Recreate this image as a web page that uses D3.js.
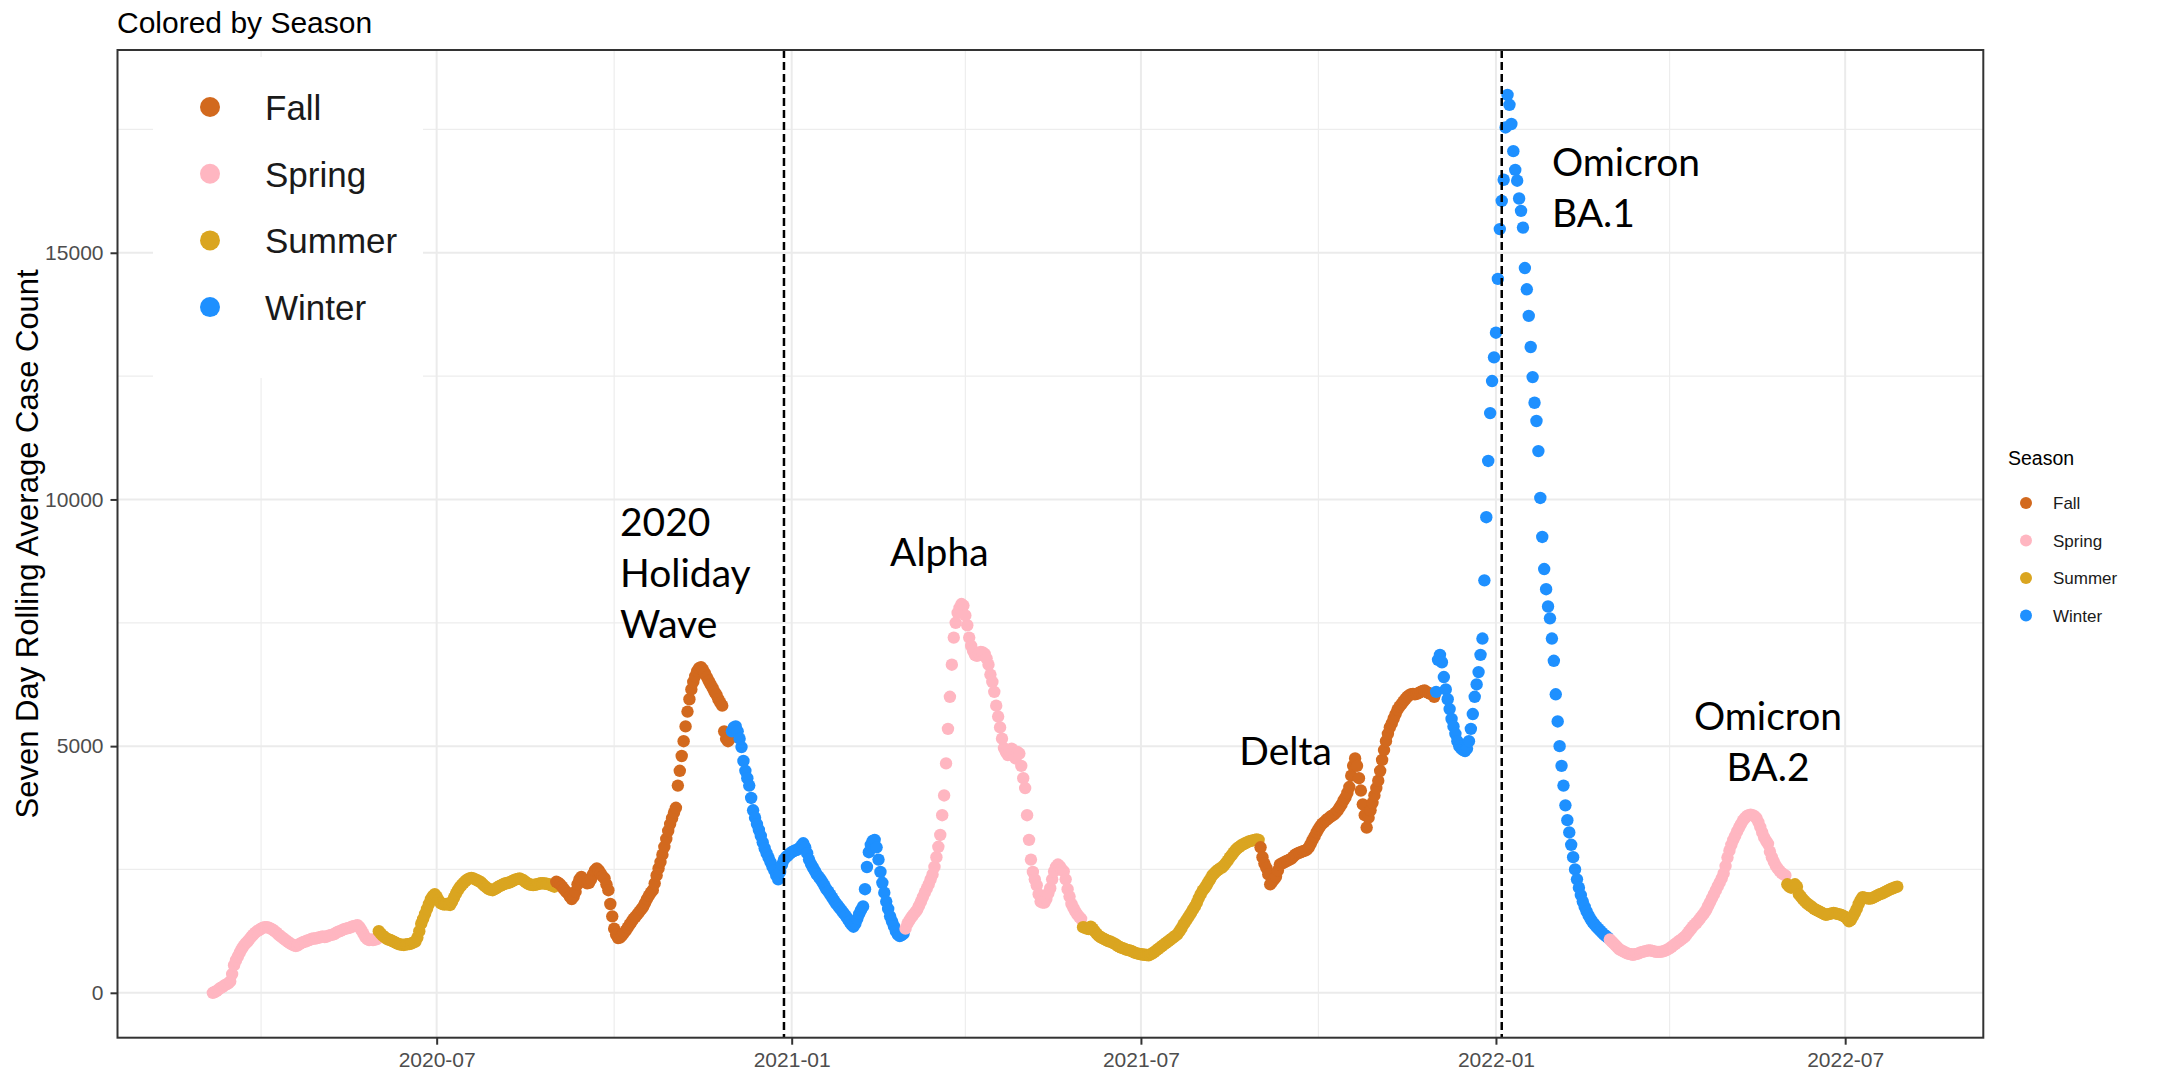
<!DOCTYPE html>
<html>
<head>
<meta charset="utf-8">
<script src="https://cdn.jsdelivr.net/npm/d3@7"></script>
<style>
  html, body { margin: 0; padding: 0; background: #ffffff; }
  svg { display: block; }
</style>
</head>
<body>
<svg id="chart" width="2177" height="1071"></svg>
<script>
// ---------------- DATA ----------------
const seasonNames = ["Fall", "Spring", "Summer", "Winter"];
const seasonColors = ["#D2691E", "#FFB6C1", "#DAA520", "#1E90FF"];

// each block is a run of consecutive daily values starting at blockStarts[i]
const blockStarts = ["2020-03-07", "2020-06-01", "2020-09-01", "2020-12-01", "2021-03-01",
                     "2021-06-01", "2021-09-01", "2021-12-01", "2022-03-01", "2022-06-01"];
const blockSeasons = ["Spring", "Summer", "Fall", "Winter", "Spring",
                      "Summer", "Fall", "Winter", "Spring", "Summer"];

const spring2020 = [0,15,40,70,100,120,150,170,190,230, 380,560,660,740,820,890,950,1000,1040,1090,
  1140,1180,1220,1250,1270,1300,1320,1330,1330,1320, 1300,1280,1250,1220,1180,1150,1120,1090,1060,1030,
  1000,980,960,950,960,990,1010,1030,1040,1060, 1070,1090,1100,1100,1110,1120,1130,1140,1130,1140,
  1160,1170,1180,1190,1220,1240,1250,1270,1290,1300, 1310,1320,1340,1350,1360,1370,1330,1270,1200,1130,
  1090,1070,1080,1070,1080,1090];
const summer2020 = [1250,1200,1160,1130,1100,1080,1070,1050,1030,1010, 990,980,975,970,980,985,990,1000,1020,1040,
  1120,1250,1400,1500,1600,1700,1800,1900,1960,2000, 1950,1880,1820,1800,1790,1800,1790,1780,1850,1930,
  2010,2080,2140,2190,2230,2270,2300,2320,2330,2320, 2300,2280,2260,2240,2200,2160,2130,2100,2090,2080,
  2100,2120,2150,2170,2190,2210,2220,2230,2240,2260, 2280,2300,2310,2320,2300,2280,2250,2220,2200,2190,
  2185,2190,2200,2210,2220,2220,2215,2210,2200,2190, 2170,2150];
const fall2020 = [2250,2230,2200,2150,2100,2050,2016,1950,1900,1950, 2050,2200,2300,2350,2300,2250,2220,2230,2300,2400,
  2480,2520,2480,2420,2360,2320,2200,2080,1800,1550, 1300,1180,1110,1120,1160,1210,1260,1320,1380,1440,
  1500,1540,1590,1640,1690,1740,1820,1900,1970,2030, 2080,2220,2380,2520,2650,2800,2960,3120,3280,3420,
  3540,3650,3750,4200,4500,4800,5100,5400,5700,5950, 6150,6300,6420,6520,6580,6600,6550,6480,6400,6320,
  6250,6180,6100,6040,5950,5880,5820,5300,5150,5100, 5150];
const winter2021 = [5300,5380,5400,5300,5150,4980,4700,4500,4350,4200, 3950,3700,3550,3420,3300,3180,3050,2930,2830,2740,
  2650,2560,2480,2380,2300,2450,2600,2700,2750,2780, 2820,2850,2870,2890,2900,2930,2980,3030,2950,2830,
  2700,2610,2540,2470,2400,2350,2300,2240,2170,2100, 2050,1990,1930,1870,1810,1760,1710,1660,1610,1560,
  1500,1440,1380,1340,1400,1500,1600,1680,1750,2100, 2550,2850,3000,3080,3100,2950,2700,2450,2230,2030,
  1850,1700,1550,1450,1350,1250,1180,1150,1170,1200];
const spring2021 = [1300,1400,1470,1530,1580,1630,1680,1760,1850,1940, 2030,2110,2200,2300,2400,2550,2750,2960,3200,3600,
  4000,4650,5350,6000,6650,7200,7500,7700,7800,7880, 7850,7650,7450,7200,7030,6930,6850,6830,6880,6910,
  6900,6870,6780,6650,6450,6300,6100,5820,5600,5380, 5150,4960,4880,4820,4880,4950,4900,4750,4880,4850,
  4600,4350,4150,3600,3100,2700,2450,2300,2180,2000, 1850,1830,1830,1900,2020,2120,2300,2460,2550,2600,
  2560,2500,2460,2300,2100,1950,1800,1720,1650,1590, 1540,1500];
const summer2021 = [1330,1320,1300,1290,1340,1300,1250,1200,1160,1130, 1110,1090,1070,1050,1040,1020,1000,980,950,930,
  910,900,880,870,860,850,830,810,800,790, 780,775,770,765,760,780,800,830,860,890,
  920,950,980,1010,1040,1070,1100,1130,1160,1190, 1250,1310,1380,1440,1500,1560,1620,1690,1750,1830,
  1920,2000,2070,2120,2180,2250,2310,2380,2420,2460, 2490,2520,2540,2580,2630,2680,2740,2790,2840,2890,
  2930,2960,2990,3010,3030,3050,3070,3080,3090,3100, 3110,3100];
const fall2021 = [2950,2750,2620,2530,2400,2200,2250,2300,2350,2480, 2600,2620,2640,2660,2680,2700,2720,2760,2800,2820,
  2840,2850,2870,2880,2900,2950,3020,3100,3170,3250, 3320,3380,3430,3460,3500,3530,3560,3590,3610,3650,
  3700,3760,3820,3900,3960,4050,4170,4400,4600,4750, 4600,4350,4100,3820,3600,3350,3550,3700,3850,4000,
  4150,4300,4500,4720,4920,5100,5250,5380,5460,5560, 5650,5740,5800,5850,5900,5950,6000,6030,6050,6060,
  6050,6060,6080,6100,6120,6130,6100,6080,6060,6050, 6000];
const winter2022 = [6100,6750,6850,6700,6400,6150,5950,5750,5550,5400, 5250,5100,5000,4950,4920,4900,4950,5100,5350,5650,
  6000,6250,6500,6850,7180,8360,9640,10780,11750,12400, 12880,13380,14470,15480,16050,16480,17540,18200,18000,17610,
  17060,16680,16460,16100,15850,15510,14690,14260,13720,13090, 12480,11960,11590,10980,10030,9240,8590,8180,7830,7590,
  7180,6730,6050,5500,5000,4600,4200,3800,3500,3250, 3000,2750,2500,2300,2130,1980,1850,1740,1650,1570,
  1500,1440,1390,1340,1300,1260,1220,1180,1150,1120];
const spring2022 = [1080,1040,1000,960,920,880,860,840,820,800, 790,780,770,780,790,800,820,830,840,850,
  860,860,850,840,830,830,830,835,845,860, 880,900,930,960,990,1020,1050,1080,1110,1140,
  1190,1240,1290,1340,1380,1420,1470,1520,1570,1620, 1680,1760,1840,1920,2000,2080,2160,2240,2320,2420,
  2570,2740,2880,3000,3100,3180,3270,3350,3420,3490, 3540,3580,3600,3610,3600,3580,3540,3460,3360,3250,
  3150,3080,3020,2860,2750,2660,2580,2520,2470,2430, 2400,2380];
const summer2022 = [2200,2150,2130,2170,2200,2150,2000,1950,1900,1860, 1820,1790,1760,1730,1700,1680,1660,1640,1620,1600,
  1580,1590,1600,1610,1620,1610,1600,1590,1580,1560, 1540,1500,1450,1480,1550,1620,1700,1800,1880,1940,
  1930,1920,1910,1910,1920,1940,1960,1980,2000,2010, 2030,2050,2070,2090,2110,2120,2140,2150];

const xTickDates = ["2020-07-01", "2021-01-01", "2021-07-01", "2022-01-01", "2022-07-01"];
const xMinorDates = ["2020-04-01", "2020-10-01", "2021-04-01", "2021-10-01", "2022-04-01"];
const yTicks = [0, 5000, 10000, 15000];
const yMinor = [2500, 7500, 12500, 17500];
const markerDates = ["2020-12-28", "2022-01-04"];

const chartTitle = "Colored by Season";
const yTitle = "Seven Day Rolling Average Case Count";
const legendTitle = "Season";

// annotation texts, anchored in data space (date of text anchor, value of first baseline)
const annotations = [
  { lines: ["2020", "Holiday", "Wave"], date: "2020-10-04", value: 9250, anchor: "start" },
  { lines: ["Alpha"], date: "2021-02-21", value: 8660, anchor: "start" },
  { lines: ["Delta"], date: "2021-08-21", value: 4620, anchor: "start" },
  { lines: ["Omicron", "BA.1"], date: "2022-01-30", value: 16550, anchor: "start" },
  { lines: ["Omicron", "BA.2"], date: "2022-05-22", value: 5330, anchor: "middle" }
];

// ---------------- BUILD ----------------
const parse = d3.utcParse("%Y-%m-%d");
const blocks = [spring2020, summer2020, fall2020, winter2021, spring2021,
                summer2021, fall2021, winter2022, spring2022, summer2022];
const data = [];
blocks.forEach((vals, i) => {
  const s = parse(blockStarts[i]);
  vals.forEach((v, j) => data.push({ date: d3.utcDay.offset(s, j), value: v, season: blockSeasons[i] }));
});

const panel = { left: 117.5, right: 1983.3, top: 50, bottom: 1037.7 };

const x = d3.scaleUtc()
  .domain([new Date(Date.UTC(2020, 0, 17, 14)), new Date(Date.UTC(2022, 8, 10, 14))])
  .range([panel.left, panel.right]);

const yExt = d3.extent(data, d => d.value);
const yPad = (yExt[1] - yExt[0]) * 0.05;
const y = d3.scaleLinear()
  .domain([yExt[0] - yPad, yExt[1] + yPad])
  .range([panel.bottom, panel.top]);

const color = d3.scaleOrdinal().domain(seasonNames).range(seasonColors);

const svg = d3.select("#chart");
svg.append("rect").attr("width", 2177).attr("height", 1071).attr("fill", "#ffffff");

const FONT = "'Liberation Sans', Arial, sans-serif";

// grid
const grid = svg.append("g");
grid.selectAll(".ymin").data(yMinor).join("line")
  .attr("x1", panel.left).attr("x2", panel.right)
  .attr("y1", d => y(d)).attr("y2", d => y(d))
  .attr("stroke", "#ededed").attr("stroke-width", 1.2);
grid.selectAll(".xmin").data(xMinorDates).join("line")
  .attr("x1", d => x(parse(d))).attr("x2", d => x(parse(d)))
  .attr("y1", panel.top).attr("y2", panel.bottom)
  .attr("stroke", "#ededed").attr("stroke-width", 1.2);
grid.selectAll(".ymaj").data(yTicks).join("line")
  .attr("x1", panel.left).attr("x2", panel.right)
  .attr("y1", d => y(d)).attr("y2", d => y(d))
  .attr("stroke", "#ebebeb").attr("stroke-width", 2);
grid.selectAll(".xmaj").data(xTickDates).join("line")
  .attr("x1", d => x(parse(d))).attr("x2", d => x(parse(d)))
  .attr("y1", panel.top).attr("y2", panel.bottom)
  .attr("stroke", "#ebebeb").attr("stroke-width", 2);

// points
svg.append("g").selectAll("circle").data(data).join("circle")
  .attr("cx", d => x(d.date))
  .attr("cy", d => y(d.value))
  .attr("r", 6.2)
  .attr("fill", d => color(d.season));

// dashed markers
svg.append("g").selectAll("line").data(markerDates).join("line")
  .attr("x1", d => x(parse(d))).attr("x2", d => x(parse(d)))
  .attr("y1", panel.top).attr("y2", panel.bottom)
  .attr("stroke", "#000").attr("stroke-width", 2.5)
  .attr("stroke-dasharray", "8,4");

// inset legend (white box)
const inset = svg.append("g");
inset.append("rect").attr("x", 153).attr("y", 57).attr("width", 270).attr("height", 321).attr("fill", "#ffffff");
seasonNames.forEach((s, i) => {
  const cy = 107 + i * 66.7;
  inset.append("circle").attr("cx", 210).attr("cy", cy).attr("r", 10).attr("fill", color(s));
  inset.append("text").attr("x", 265).attr("y", cy + 13).text(s)
    .attr("font-family", FONT).attr("font-size", 35).attr("fill", "#1a1a1a");
});

// panel border
svg.append("rect")
  .attr("x", panel.left).attr("y", panel.top)
  .attr("width", panel.right - panel.left).attr("height", panel.bottom - panel.top)
  .attr("fill", "none").attr("stroke", "#333333").attr("stroke-width", 2);

// axes
const yAxis = d3.axisLeft(y).tickValues(yTicks).tickSize(7).tickPadding(7).tickFormat(d3.format("d"));
const gy = svg.append("g").attr("transform", `translate(${panel.left},0)`).call(yAxis);
const xAxis = d3.axisBottom(x).tickValues(xTickDates.map(parse)).tickSize(7).tickPadding(7)
  .tickFormat(d3.utcFormat("%Y-%m"));
const gx = svg.append("g").attr("transform", `translate(0,${panel.bottom})`).call(xAxis);
[gx, gy].forEach(g => {
  g.select(".domain").remove();
  g.selectAll(".tick line").attr("stroke", "#333333").attr("stroke-width", 2);
  g.selectAll(".tick text").attr("font-family", FONT).attr("font-size", 21).attr("fill", "#4d4d4d");
});

// title
svg.append("text").attr("x", 117).attr("y", 33).text(chartTitle)
  .attr("font-family", FONT).attr("font-size", 30).attr("fill", "#000");

// y title
svg.append("text")
  .attr("transform", `translate(38,${(panel.top + panel.bottom) / 2}) rotate(-90)`)
  .attr("text-anchor", "middle").text(yTitle)
  .attr("font-family", FONT).attr("font-size", 31).attr("fill", "#000");

// right legend
const leg = svg.append("g");
leg.append("text").attr("x", 2008).attr("y", 465).text(legendTitle)
  .attr("font-family", FONT).attr("font-size", 19.5).attr("fill", "#000");
seasonNames.forEach((s, i) => {
  const cy = 503 + i * 37.5;
  leg.append("circle").attr("cx", 2026).attr("cy", cy).attr("r", 6).attr("fill", color(s));
  leg.append("text").attr("x", 2053).attr("y", cy + 6).text(s)
    .attr("font-family", FONT).attr("font-size", 17).attr("fill", "#1a1a1a");
});

// annotations
const ann = svg.append("g");
annotations.forEach(a => {
  const t = ann.append("text")
    .attr("x", x(parse(a.date))).attr("y", y(a.value))
    .attr("text-anchor", a.anchor)
    .attr("font-family", "Lato, 'Open Sans', sans-serif").attr("font-size", 39).attr("fill", "#000");
  a.lines.forEach((ln, k) => {
    t.append("tspan").attr("x", x(parse(a.date))).attr("dy", k === 0 ? 0 : 51).text(ln);
  });
});
</script>
</body>
</html>
